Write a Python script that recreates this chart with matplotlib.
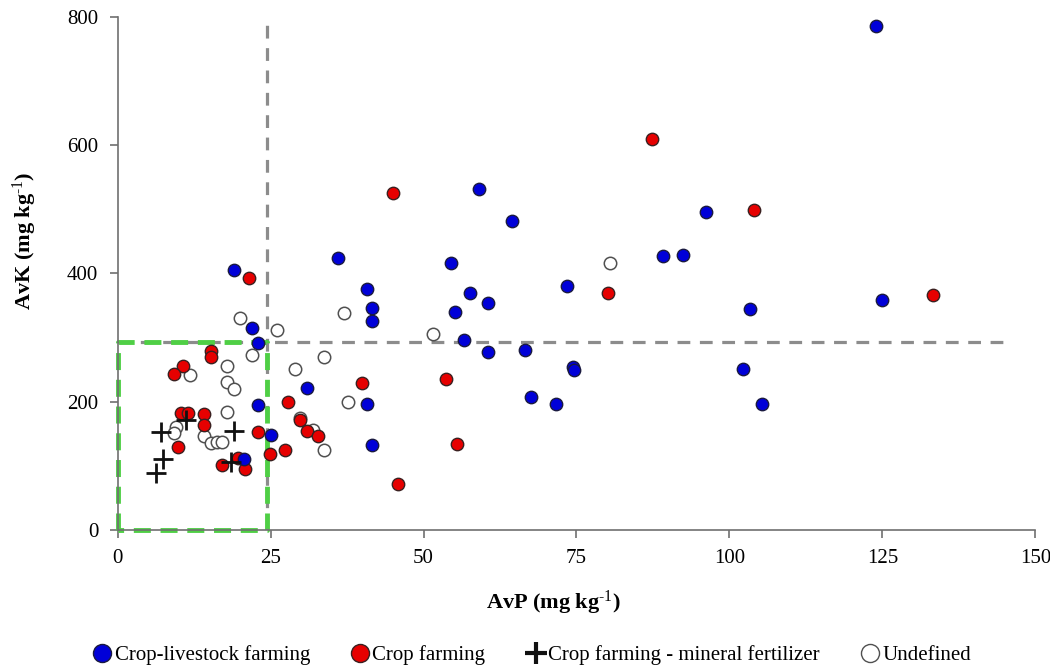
import matplotlib
matplotlib.use('Agg')
import matplotlib.pyplot as plt
from matplotlib.lines import Line2D

plt.rcParams['font.family'] = ['Liberation Serif', 'DejaVu Serif']
plt.rcParams['mathtext.fontset'] = 'custom'
plt.rcParams['mathtext.rm'] = 'Liberation Serif'
plt.rcParams['mathtext.default'] = 'rm'

# AvP / AvK per farm type (mg kg-1)
livestock_p = [19, 36, 22, 23, 31, 23, 25, 20.6, 59, 64.5, 54.5, 73.5, 40.7, 57.6, 60.5,
               41.6, 41.6, 55.2, 56.7, 60.5, 66.6, 74.4, 74.6, 67.6, 71.6, 40.7, 41.6,
               96.2, 89.1, 92.4, 103.3, 102.3, 105.3, 124, 124.9]
livestock_k = [405, 424, 315, 291, 222, 195, 148, 110, 531, 482, 416, 381, 376, 369, 354,
               346, 325, 339, 296, 278, 281, 254, 250, 208, 197, 197, 133,
               495, 427, 429, 345, 251, 197, 786, 359]

crop_p = [21.5, 15.2, 15.2, 10.7, 9.2, 40, 27.9, 10.4, 11.5, 14.1, 14.1, 23, 29.8, 30.9,
          32.8, 27.4, 24.9, 9.9, 19.7, 17, 20.8, 45, 53.6, 55.5, 45.8, 104, 80.1, 87.4, 133.2]
crop_k = [393, 279, 269, 255, 243, 229, 200, 182, 182, 180, 164, 153, 172, 155,
          147, 125, 118, 129, 112, 101, 95, 526, 236, 134, 72, 499, 370, 610, 367]

mineral_p = [7.1, 7.4, 6.3, 11.2, 19.1, 18.6]
mineral_k = [153, 110, 89, 171, 155, 106]

undef_p = [20, 37, 26, 22, 33.7, 11.9, 17.9, 29, 17.9, 19, 37.7, 17.9, 9.5, 9.2, 14.1,
           15.2, 16.3, 17.1, 29.8, 32, 33.7, 51.6, 80.5]
undef_k = [330, 338, 311, 273, 270, 242, 256, 251, 230, 220, 200, 184, 161, 151, 147,
           136, 137, 137, 175, 156, 125, 306, 416]

# critical levels
p_crit = 24.5
k_crit = 293

fig = plt.figure(figsize=(10.5, 6.7), dpi=100)
ax = fig.add_axes([0.112, 0.209, 0.874, 0.766])

# threshold lines and low-low box
ax.plot([p_crit, p_crit], [0, 800], ls=(0, (4, 3)), color='#8c8c8c', lw=2.3, zorder=1)
ax.plot([0, 146], [k_crit, k_crit], ls=(0, (4, 3)), color='#8c8c8c', lw=2.3, zorder=1)
ax.plot([0, 0, p_crit, p_crit, 0], [0, k_crit, k_crit, 0, 0], ls=(0, (3.5, 2)),
        color='#4fcf45', lw=3.5, zorder=2, clip_on=False)

ax.scatter(undef_p, undef_k, s=80, facecolor='white', edgecolor='#505050', lw=1.1, zorder=3)
ax.scatter(crop_p, crop_k, s=80, facecolor='#e60000', edgecolor='#3a2020', lw=1.0, zorder=4)
ax.scatter(livestock_p, livestock_k, s=80, facecolor='#0000d8', edgecolor='#1a1a40', lw=1.0, zorder=5)
ax.scatter(mineral_p, mineral_k, s=220, marker='+', color='#111111', lw=2.0, zorder=6)

ax.set_xlim(0, 150)
ax.set_ylim(0, 800)
ax.set_xticks(range(0, 151, 25))
ax.set_yticks(range(0, 801, 200))
for side in ['top', 'right']:
    ax.spines[side].set_visible(False)
for side in ['left', 'bottom']:
    ax.spines[side].set_color('#707070')
    ax.spines[side].set_linewidth(1.2)
ax.tick_params(direction='out', length=6, width=1.2, color='#707070', labelsize=15, pad=8)

ax.set_xlabel(r'AvP (mg kg$^{\text{-1}}$)', fontsize=16, fontweight='bold')
ax.set_ylabel(r'AvK (mg kg$^{\text{-1}}$)', fontsize=16, fontweight='bold')
ax.xaxis.set_label_coords(0.475, -0.115)
ax.yaxis.set_label_coords(-0.086, 0.563)

handles = [
    Line2D([], [], ls='', marker='o', ms=13, mfc='#0000d8', mec='#1a1a40'),
    Line2D([], [], ls='', marker='o', ms=13, mfc='#e60000', mec='#3a2020'),
    Line2D([], [], ls='', marker='+', ms=16, mec='#111111', mew=3),
    Line2D([], [], ls='', marker='o', ms=13, mfc='white', mec='#505050'),
]
labels = ['Crop-livestock farming', 'Crop farming', 'Crop farming - mineral fertilizer', 'Undefined']
fig.legend(handles, labels, loc='center', bbox_to_anchor=(0.505, 0.022), ncol=4,
           frameon=False, fontsize=15, handletextpad=0.0, columnspacing=1.8,
           handlelength=1.2)

plt.savefig('out.png', dpi=100)
